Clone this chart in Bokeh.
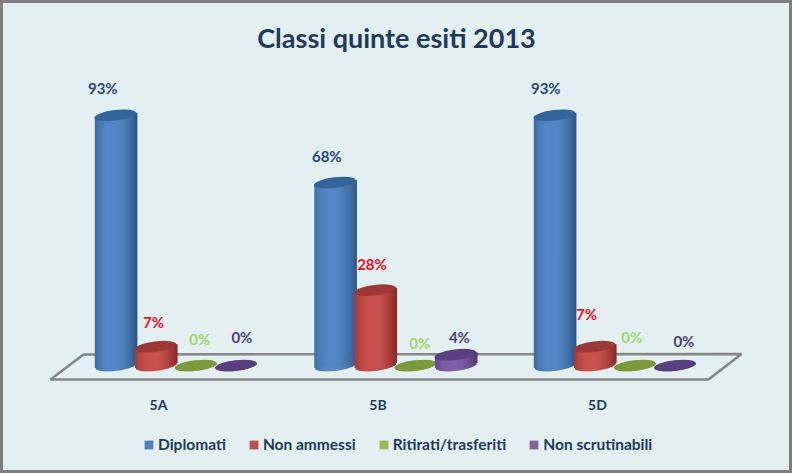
from bokeh.plotting import figure
from bokeh.embed import file_html
from bokeh.resources import INLINE
from bokeh.models import Range1d, FixedTicker, Legend, LegendItem, ColumnDataSource
from bokeh.core.properties import value

# ---- data ----
classes = ["5A", "5B", "5D"]
series_names = ["Diplomati", "Non ammessi", "Ritirati/trasferiti", "Non scrutinabili"]
diplomati = [93, 68, 93]
non_ammessi = [7, 28, 7]
ritirati = [0, 0, 0]
non_scrutinabili = [0, 4, 0]
title_text = "Classi quinte esiti 2013"

# ---- label nudges in pixels (dx, dy above the bar top) ----
label_dx = [[-12.5, -8, -8.5], [-2, -3, -8], [4, 4.5, -3], [6, 4, 9]]
label_dy = [[27, 27, 27], [25, 26, 33], [27, 23, 29], [29, 18, 25]]

# ---- style ----
BG = "#e3eff0"
INK = "#1f3a5f"
FONT = "Lato"
swatch = ["#4f81bd", "#c0504d", "#9bbb59", "#8064a2"]
light = [(86, 136, 200), (203, 82, 78), (150, 180, 90), (128, 98, 170)]
dark = [(44, 88, 136), (136, 44, 42), (110, 140, 60), (82, 56, 120)]
top_col = ["#33649b", "#9c3836", "#7a9a3c", "#5a3f80"]
label_col = ["#1f497d", "#ee1122", "#a3d670", "#4f3f78"]

W, H = 792, 473
PX_X = 219.5            # pixels per category
PX_Y = 2.69             # pixels per percent
TICK0 = 158             # pixel of the first category label
BORDER_TOP, BORDER_BOTTOM = 68, 0
ZERO_Y = 365            # pixel row of value 0
R, EH, TILT = 20.5, 5.3, 0.12
SHEAR = -43.2           # first bar centre relative to the category label
STEP = 40.2             # distance between bars

fx = lambda px: px / PX_X
fy = lambda px: px / PX_Y

x0 = -fx(TICK0)
x_range = Range1d(x0, x0 + fx(W))
y_bottom = -fy(H - BORDER_BOTTOM - ZERO_Y)
y_top = fy(ZERO_Y - BORDER_TOP)
y_range = Range1d(y_bottom, y_top)

p = figure(width=W, height=H, x_range=x_range, y_range=y_range,
           output_backend="svg", toolbar_location=None,
           min_border_left=0, min_border_right=0,
           min_border_top=BORDER_TOP, min_border_bottom=BORDER_BOTTOM,
           background_fill_color=None, border_fill_color=None)
p.styles = {"background-color": BG}
p.stylesheets = [":host::after { content: ''; position: absolute; inset: 0; "
                 "border: 3px solid #7f7f7f; box-sizing: border-box; "
                 "pointer-events: none; z-index: 100; }"]
p.outline_line_color = None
p.grid.visible = False
p.yaxis.visible = False

p.title.text = title_text
p.title.align = "center"
p.title.text_font = FONT
p.title.text_font_size = "27px"
p.title.text_font_style = "bold"
p.title.text_color = INK
p.title.standoff = 30

ax = p.xaxis[0]
ax.ticker = FixedTicker(ticks=list(range(len(classes))))
ax.major_label_overrides = {i: c for i, c in enumerate(classes)}
ax.fixed_location = fy(-14)
ax.axis_line_color = None
ax.major_tick_line_color = None
ax.minor_tick_line_color = None
ax.major_label_text_font = FONT
ax.major_label_text_font_style = "bold"
ax.major_label_text_font_size = "14px"
ax.major_label_text_color = INK
ax.major_label_standoff = 10

# floor of the 3D chart
floor_x = [fx(-108), fx(-75), fx(583), fx(550)]
floor_y = [fy(-14), fy(11), fy(11.5), fy(-14)]
p.patch(floor_x, floor_y, fill_color=None, line_color="#868686", line_width=2.5)

items = []
all_series = [diplomati, non_ammessi, ritirati, non_scrutinabili]
strip_offsets = [d - R for d in range(int(2 * R) + 1)]

for j, vals in enumerate(all_series):
    cx = [i + fx(SHEAR + STEP * j) for i in range(len(classes))]
    src = ColumnDataSource(dict(x=cx, top=vals))
    base = p.vbar(x="x", top="top", bottom=0, width=fx(28), source=src,
                  fill_color=swatch[j], line_color=None)
    items.append(LegendItem(label=series_names[j], renderers=[base]))

    left, right, top, bottom, col = [], [], [], [], []
    for c, v in zip(cx, vals):
        for d in strip_offsets:
            u = min(abs(d) / R, 1)
            t = min(abs(d + 3) / (R + 3), 1) ** 2
            rgb = tuple(int(light[j][k] + (dark[j][k] - light[j][k]) * t) for k in range(3))
            sag = EH * (1 - u * u) ** 0.5
            left.append(c + fx(d))
            right.append(c + fx(d + 1.6))
            top.append(v + fy(TILT * d))
            bottom.append(fy(TILT * d - sag))
            col.append("#%02x%02x%02x" % rgb)
    p.quad(left=left, right=right, top=top, bottom=bottom, fill_color=col, line_color=None)

    p.ellipse(x=cx, y=vals, width=2 * R + 1, height=2 * EH,
              width_units="screen", height_units="screen",
              angle=7, angle_units="deg", fill_color=top_col[j], line_color=None)

for j, vals in enumerate(all_series):
    cx = [i + fx(SHEAR + STEP * j) for i in range(len(classes))]
    p.text(x=cx, y=vals, text=[f"{v}%" for v in vals],
           x_offset=label_dx[j], y_offset=[-d for d in label_dy[j]],
           text_align="center", text_baseline="middle",
           text_font=value(FONT), text_font_style="bold",
           text_font_size="15px", text_color=label_col[j])

legend = Legend(items=items, orientation="horizontal",
                location=(143, 20), spacing=22, padding=0, margin=0,
                glyph_width=11, glyph_height=11, label_standoff=4,
                label_text_font=FONT, label_text_font_style="bold",
                label_text_font_size="15.5px", label_text_color=INK,
                background_fill_alpha=0, border_line_color=None)
p.add_layout(legend, "center")

open("out.html", "w").write(file_html(p, INLINE))
